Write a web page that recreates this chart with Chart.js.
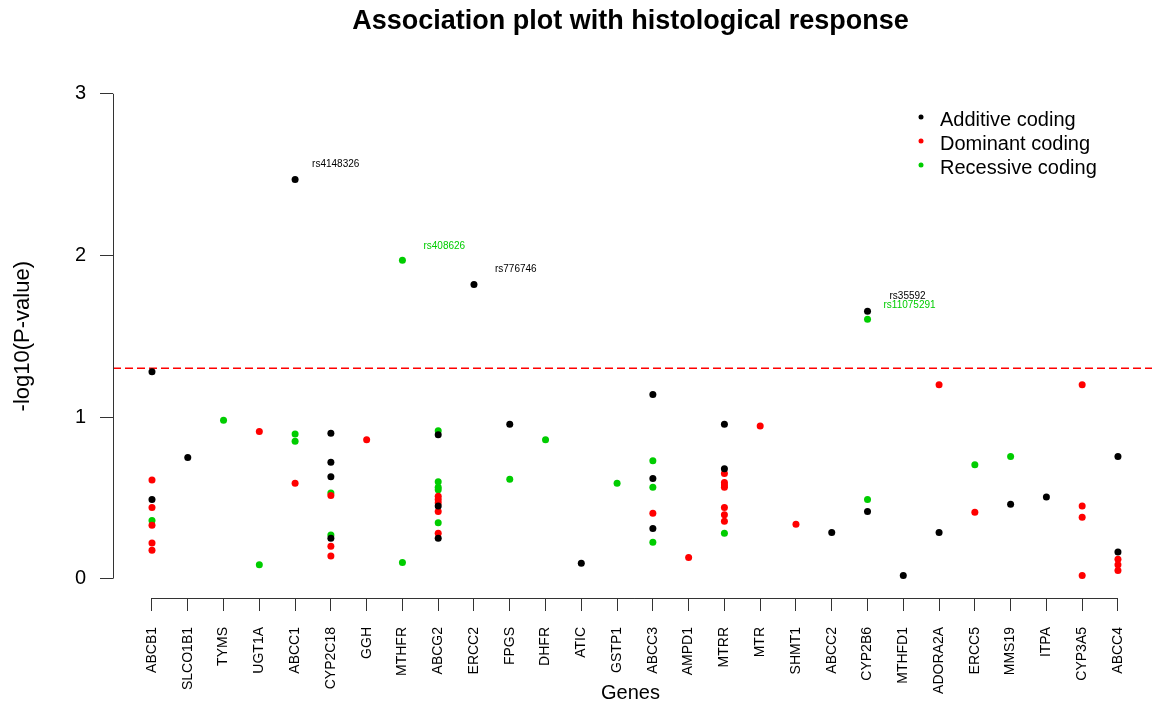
<!DOCTYPE html>
<html>
<head>
<meta charset="utf-8">
<script src="https://cdn.jsdelivr.net/npm/chart.js@4.4.1/dist/chart.umd.min.js"></script>
<style>
  body { margin: 0; background: #fff; }
</style>
</head>
<body>
<canvas id="myChart" width="1152" height="706"></canvas>
<script>
// genes along the x axis
const genes = ['ABCB1', 'SLCO1B1', 'TYMS', 'UGT1A', 'ABCC1', 'CYP2C18', 'GGH', 'MTHFR', 'ABCG2', 'ERCC2',
    'FPGS', 'DHFR', 'ATIC', 'GSTP1', 'ABCC3', 'AMPD1', 'MTRR', 'MTR', 'SHMT1', 'ABCC2',
    'CYP2B6', 'MTHFD1', 'ADORA2A', 'ERCC5', 'MMS19', 'ITPA', 'CYP3A5', 'ABCC4'];

const yTicks = [0, 1, 2, 3];
const threshold = 1.301; // -log10(0.05)

// additive coding (black)
const additiveGenes = ['ABCB1', 'ABCB1', 'SLCO1B1', 'ABCC1', 'CYP2C18', 'CYP2C18', 'CYP2C18', 'CYP2C18',
    'ABCG2', 'ABCG2', 'ABCG2', 'ERCC2', 'FPGS', 'ATIC', 'ABCC3', 'ABCC3', 'ABCC3', 'MTRR', 'MTRR',
    'ABCC2', 'CYP2B6', 'CYP2B6', 'MTHFD1', 'ADORA2A', 'MMS19', 'ITPA', 'ABCC4', 'ABCC4'];
const additiveValues = [1.28, 0.49, 0.75, 2.47, 0.90, 0.72, 0.63, 0.25,
    0.89, 0.45, 0.25, 1.82, 0.955, 0.095, 1.14, 0.62, 0.31, 0.955, 0.68,
    0.285, 1.655, 0.415, 0.02, 0.285, 0.46, 0.505, 0.755, 0.165];

// dominant coding (red)
const dominantGenes = ['ABCB1', 'ABCB1', 'ABCB1', 'ABCB1', 'ABCB1', 'UGT1A', 'ABCC1', 'CYP2C18', 'CYP2C18', 'CYP2C18',
    'GGH', 'ABCG2', 'ABCG2', 'ABCG2', 'ABCG2', 'ABCG2', 'ABCC3', 'AMPD1',
    'MTRR', 'MTRR', 'MTRR', 'MTRR', 'MTRR', 'MTRR', 'MTRR', 'MTR', 'SHMT1', 'ADORA2A', 'ERCC5',
    'CYP3A5', 'CYP3A5', 'CYP3A5', 'CYP3A5', 'ABCC4', 'ABCC4', 'ABCC4'];
const dominantValues = [0.61, 0.44, 0.33, 0.22, 0.175, 0.91, 0.59, 0.515, 0.20, 0.14,
    0.86, 0.51, 0.49, 0.47, 0.415, 0.28, 0.405, 0.13,
    0.65, 0.595, 0.58, 0.565, 0.44, 0.395, 0.355, 0.945, 0.337, 1.20, 0.41,
    1.20, 0.45, 0.38, 0.02, 0.12, 0.085, 0.05];

// recessive coding (green)
const recessiveGenes = ['ABCB1', 'TYMS', 'UGT1A', 'ABCC1', 'ABCC1', 'CYP2C18', 'CYP2C18', 'MTHFR', 'MTHFR',
    'ABCG2', 'ABCG2', 'ABCG2', 'ABCG2', 'ABCG2', 'FPGS', 'DHFR', 'GSTP1', 'ABCC3', 'ABCC3', 'ABCC3',
    'MTRR', 'CYP2B6', 'CYP2B6', 'ERCC5', 'MMS19'];
const recessiveValues = [0.36, 0.98, 0.085, 0.895, 0.85, 0.53, 0.27, 1.97, 0.10,
    0.915, 0.60, 0.565, 0.55, 0.345, 0.615, 0.86, 0.59, 0.73, 0.565, 0.225,
    0.28, 1.605, 0.49, 0.705, 0.755];

// significant SNPs that get a text label
const snpNames = ['rs4148326', 'rs408626', 'rs776746', 'rs35592', 'rs11075291'];
const snpGenes = ['ABCC1', 'MTHFR', 'ERCC2', 'CYP2B6', 'CYP2B6'];
const snpValues = [2.47, 1.97, 1.82, 1.655, 1.605];
const snpColors = ['#000000', '#00cd00', '#000000', '#000000', '#00cd00'];
const snpOffsets = [[17, -15], [21, -14], [21, -15], [22, -15], [16, -14]];

const seriesNames = ['Additive coding', 'Dominant coding', 'Recessive coding'];
const seriesColors = ['#000000', '#ff0000', '#00cd00'];

const toPoints = (g, v) => g.map((name, i) => ({ x: genes.indexOf(name), y: v[i] }));

Chart.defaults.font.family = "'Liberation Sans', Arial, sans-serif";
Chart.defaults.color = '#000';

// R style axes: lines only between the first and last tick
const axisLines = {
    id: 'axisLines',
    afterDraw(chart) {
        const { ctx, chartArea, scales: { x, y } } = chart;
        ctx.save();
        ctx.strokeStyle = '#333';
        ctx.lineWidth = 1;
        ctx.beginPath();
        ctx.moveTo(chartArea.left + 0.5, y.getPixelForValue(yTicks[0]));
        ctx.lineTo(chartArea.left + 0.5, y.getPixelForValue(yTicks[yTicks.length - 1]));
        ctx.moveTo(x.getPixelForValue(0), chartArea.bottom + 0.5);
        ctx.lineTo(x.getPixelForValue(genes.length - 1), chartArea.bottom + 0.5);
        ctx.stroke();
        ctx.restore();
    }
};

const snpLabels = {
    id: 'snpLabels',
    afterDatasetsDraw(chart) {
        const { ctx, scales: { x, y } } = chart;
        ctx.save();
        ctx.font = "10px 'Liberation Sans', Arial, sans-serif";
        ctx.textAlign = 'left';
        ctx.textBaseline = 'middle';
        for (let i = 0; i < snpNames.length; i++) {
            ctx.fillStyle = snpColors[i];
            ctx.fillText(snpNames[i],
                x.getPixelForValue(genes.indexOf(snpGenes[i])) + snpOffsets[i][0],
                y.getPixelForValue(snpValues[i]) + snpOffsets[i][1]);
        }
        ctx.restore();
    }
};

const cornerLegend = {
    id: 'cornerLegend',
    afterDraw(chart) {
        const { ctx } = chart;
        ctx.save();
        ctx.font = "20px 'Liberation Sans', Arial, sans-serif";
        ctx.textAlign = 'left';
        ctx.textBaseline = 'middle';
        for (let i = 0; i < seriesNames.length; i++) {
            const yy = 120 + i * 24;
            ctx.fillStyle = seriesColors[i];
            ctx.beginPath();
            ctx.arc(921, yy - 3, 2.5, 0, Math.PI * 2);
            ctx.fill();
            ctx.fillStyle = '#000';
            ctx.fillText(seriesNames[i], 940, yy);
        }
        ctx.restore();
    }
};

const ctx = document.getElementById('myChart').getContext('2d');
const myChart = new Chart(ctx, {
    type: 'scatter',
    data: {
        datasets: [{
            label: seriesNames[0],
            data: toPoints(additiveGenes, additiveValues),
            backgroundColor: seriesColors[0],
            pointRadius: 3.5,
            borderWidth: 0
        }, {
            label: seriesNames[1],
            data: toPoints(dominantGenes, dominantValues),
            backgroundColor: seriesColors[1],
            pointRadius: 3.5,
            borderWidth: 0
        }, {
            label: seriesNames[2],
            data: toPoints(recessiveGenes, recessiveValues),
            backgroundColor: seriesColors[2],
            pointRadius: 3.5,
            borderWidth: 0
        }, {
            type: 'line',
            label: 'threshold',
            data: [{ x: -1.09, y: threshold }, { x: 29, y: threshold }],
            borderColor: '#ff0000',
            borderWidth: 1.5,
            borderDash: [8, 4],
            pointRadius: 0,
            fill: false,
            clip: { left: 0, top: 0, right: 20, bottom: 0 }
        }]
    },
    options: {
        responsive: false,
        animation: false,
        layout: { padding: 0 },
        plugins: {
            legend: { display: false },
            tooltip: { enabled: false },
            title: {
                display: true,
                text: 'Association plot with histological response',
                fullSize: false,
                color: '#000',
                font: { size: 27, weight: 'bold' },
                padding: { top: 5, bottom: 37 }
            }
        },
        scales: {
            x: {
                type: 'linear',
                min: -1.09,
                max: 27.84,
                afterBuildTicks: (s) => { s.ticks = genes.map((g, i) => ({ value: i })); },
                afterFit: (s) => { s.height = 108; s.paddingLeft = 0; s.paddingRight = 0; },
                ticks: {
                    callback: (v) => genes[v],
                    autoSkip: false,
                    minRotation: 90,
                    maxRotation: 90,
                    padding: 16,
                    color: '#000',
                    font: { size: 14 }
                },
                grid: { drawOnChartArea: false, tickLength: 13, color: '#333' },
                border: { display: false },
                title: {
                    display: true,
                    text: 'Genes',
                    color: '#000',
                    font: { size: 20 },
                    padding: { top: 0, bottom: 1 }
                }
            },
            y: {
                min: -0.12,
                max: 3.12,
                afterBuildTicks: (s) => { s.ticks = yTicks.map((v) => ({ value: v })); },
                afterFit: (s) => { s.width = 113; s.paddingTop = 0; s.paddingBottom = 0; },
                ticks: {
                    padding: 14,
                    color: '#000',
                    font: { size: 20 }
                },
                grid: { drawOnChartArea: false, tickLength: 13, color: '#333' },
                border: { display: false },
                title: {
                    display: true,
                    text: '-log10(P-value)',
                    color: '#000',
                    font: { size: 22 },
                    padding: { top: 10, bottom: 0 }
                }
            }
        }
    },
    plugins: [axisLines, snpLabels, cornerLegend]
});
</script>
</body>
</html>
